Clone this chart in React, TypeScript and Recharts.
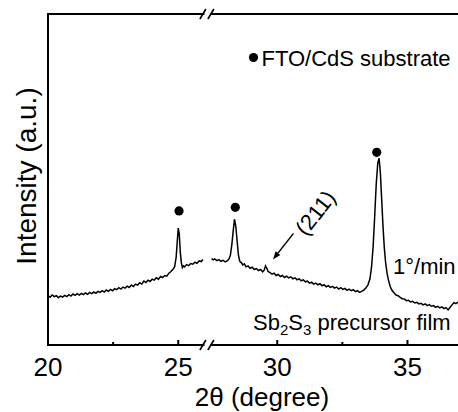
import {
  ComposedChart, Line, Scatter, XAxis, YAxis, ReferenceLine, ReferenceDot, Customized,
} from "recharts";

const FONT = "'Liberation Sans', Arial, Helvetica, sans-serif";

// 2θ between BREAK_AT and BREAK_AT + BREAK_GAP is cut out of the axis
const BREAK_AT = 26.1;
const BREAK_GAP = 1.2;
const X_END = 36.94;

const majorTicks = [20, 25, 30, 35];
const minorTicks = [22.5, 32.5];

// [2θ, intensity a.u.]
const scanBeforeBreak = [
  [20.0, 14.9], [20.08, 14.4], [20.16, 15.1], [20.24, 14.6], [20.32, 14.9], [20.4, 14.3],
  [20.48, 14.8], [20.56, 14.5], [20.64, 15.0], [20.72, 14.6], [20.8, 15.2], [20.88, 14.8],
  [20.96, 15.4], [21.04, 15.0], [21.12, 15.5], [21.2, 15.1], [21.28, 15.6], [21.36, 15.2],
  [21.44, 15.7], [21.52, 15.3], [21.6, 15.9], [21.68, 15.5], [21.76, 16.0], [21.84, 15.6],
  [21.92, 16.2], [22.0, 15.9], [22.08, 16.4], [22.16, 16.0], [22.24, 16.6], [22.32, 16.2],
  [22.4, 16.8], [22.48, 16.4], [22.56, 17.0], [22.64, 16.7], [22.72, 17.3], [22.8, 16.9],
  [22.88, 17.5], [22.96, 17.2], [23.04, 17.8], [23.12, 17.4], [23.2, 18.1], [23.28, 17.7],
  [23.36, 18.4], [23.44, 18.1], [23.52, 18.8], [23.6, 18.4], [23.68, 19.3], [23.76, 18.9],
  [23.84, 19.6], [23.92, 19.2], [24.0, 19.9], [24.08, 19.6], [24.16, 20.3], [24.24, 19.9],
  [24.32, 20.7], [24.4, 20.4], [24.48, 21.0], [24.56, 20.8], [24.64, 21.7], [24.72, 22.2],
  [24.8, 22.9], [24.86, 23.6], [24.92, 26.5], [24.96, 31.0], [25.0, 35.3], [25.04, 33.5],
  [25.08, 28.0], [25.12, 24.8], [25.16, 23.4], [25.2, 23.9], [25.24, 23.6], [25.32, 24.3],
  [25.4, 24.0], [25.48, 24.6], [25.56, 24.4], [25.64, 25.0], [25.72, 24.7], [25.8, 25.4],
  [25.88, 25.2], [25.95, 25.8],
];

const scanAfterBreak = [
  [27.48, 26.1], [27.54, 25.7], [27.6, 26.0], [27.68, 25.5], [27.76, 25.8], [27.84, 25.3],
  [27.92, 25.6], [28.0, 25.1], [28.08, 25.4], [28.14, 25.9], [28.2, 27.0], [28.26, 30.5],
  [28.31, 34.5], [28.36, 38.0], [28.41, 35.8], [28.46, 31.5], [28.51, 27.2], [28.56, 25.3],
  [28.62, 24.9], [28.68, 24.2], [28.74, 24.5], [28.8, 23.6], [28.88, 23.9], [28.96, 23.2],
  [29.04, 23.5], [29.12, 22.8], [29.2, 23.1], [29.28, 22.5], [29.36, 22.8], [29.44, 22.1],
  [29.5, 22.6], [29.55, 23.9], [29.6, 23.2], [29.65, 22.2], [29.72, 21.9], [29.8, 21.4],
  [29.88, 21.7], [29.96, 21.0], [30.04, 21.3], [30.12, 20.7], [30.2, 21.0], [30.28, 20.4],
  [30.36, 20.8], [30.44, 20.3], [30.52, 20.6], [30.6, 20.0], [30.68, 20.3], [30.76, 19.7],
  [30.84, 20.0], [30.92, 19.4], [31.0, 19.7], [31.08, 19.1], [31.16, 19.3], [31.24, 18.7],
  [31.32, 19.0], [31.4, 18.4], [31.48, 18.7], [31.56, 18.2], [31.64, 18.5], [31.72, 17.9],
  [31.8, 18.2], [31.88, 17.6], [31.96, 17.9], [32.04, 17.4], [32.12, 17.7], [32.2, 17.2],
  [32.28, 17.5], [32.36, 16.9], [32.44, 17.3], [32.52, 16.8], [32.6, 17.1], [32.68, 16.5],
  [32.76, 16.9], [32.84, 16.4], [32.92, 16.7], [33.0, 16.1], [33.08, 16.4], [33.16, 15.9],
  [33.24, 16.2], [33.32, 16.6], [33.4, 17.2], [33.48, 18.1], [33.56, 20.0], [33.62, 23.5],
  [33.68, 29.5], [33.74, 38.5], [33.8, 48.5], [33.86, 55.0], [33.91, 56.4], [33.96, 52.0],
  [34.01, 44.0], [34.06, 36.0], [34.11, 29.5], [34.16, 25.0], [34.22, 21.5], [34.28, 19.3],
  [34.34, 17.6], [34.4, 16.6], [34.48, 15.8], [34.56, 15.1], [34.64, 14.9], [34.72, 14.4],
  [34.8, 14.0], [34.88, 13.9], [34.96, 13.4], [35.04, 13.5], [35.12, 13.0], [35.2, 13.2],
  [35.28, 12.7], [35.36, 12.9], [35.44, 12.4], [35.52, 12.6], [35.6, 12.1], [35.68, 12.4],
  [35.76, 11.9], [35.84, 12.2], [35.92, 11.7], [36.0, 11.9], [36.08, 11.4], [36.16, 11.7],
  [36.24, 11.2], [36.32, 11.5], [36.4, 11.0], [36.48, 11.3], [36.56, 10.6], [36.64, 11.4],
  [36.72, 12.2], [36.78, 12.8], [36.86, 12.5], [36.94, 13.0],
];

// FTO/CdS substrate reflections (marker positions)
const substratePeaks = [[25.03, 40.5], [28.39, 41.6], [33.82, 58.2]];
// Sb2S3 (211)
const peak211 = [29.55, 23.9];

const toAxis = (t: number) => (t > BREAK_AT ? t - BREAK_GAP : t);
const fromAxis = (u: number) => Math.round((u > BREAK_AT ? u + BREAK_GAP : u) * 10) / 10;
const rows = (pts: number[][]) => pts.map(([t, v]) => ({ u: toAxis(t), v }));

const lowRows = rows(scanBeforeBreak);
const highRows = rows(scanAfterBreak);
const peakRows = rows(substratePeaks);
const axisEnd = toAxis(X_END);
const tickAt = [...majorTicks, ...minorTicks].map(toAxis).sort((a, b) => a - b);
const gapHalf = 0.134;

function AxisTick({ x, y, payload }: any) {
  const t = fromAxis(payload.value);
  const major = majorTicks.includes(t);
  return (
    <g>
      <line x1={x} x2={x} y1={y} y2={y - (major ? 5 : 3)} stroke="#000" strokeWidth={2} />
      {major && (
        <text x={x} y={y + 31} textAnchor="middle" fontFamily={FONT} fontSize={26} fill="#000">
          {t}
        </text>
      )}
    </g>
  );
}

function AxisBreak({ cx, cy }: any) {
  return (
    <g stroke="#000" strokeWidth={1.6}>
      <line x1={cx - 7} y1={cy + 5} x2={cx - 1} y2={cy - 5} />
      <line x1={cx + 1} y1={cy + 5} x2={cx + 7} y2={cy - 5} />
    </g>
  );
}

function Dot({ cx, cy }: any) {
  return <circle cx={cx} cy={cy} r={4.6} fill="#000" />;
}

function Arrow211({ cx, cy }: any) {
  const tip = [cx + 7.5, cy - 6.5];
  const tail = [cx + 28, cy - 32.5];
  const dx = tip[0] - tail[0];
  const dy = tip[1] - tail[1];
  const len = Math.hypot(dx, dy);
  const ux = dx / len, uy = dy / len;
  const bx = tip[0] - ux * 8, by = tip[1] - uy * 8;
  const tx = cx + 50, ty = cy - 53;
  return (
    <g>
      <line x1={tail[0]} y1={tail[1]} x2={bx} y2={by} stroke="#000" strokeWidth={1.5} />
      <polygon
        points={`${tip[0]},${tip[1]} ${bx - uy * 3},${by + ux * 3} ${bx + uy * 3},${by - ux * 3}`}
        fill="#000"
      />
      <text
        x={tx} y={ty} textAnchor="middle" dominantBaseline="central"
        fontFamily={FONT} fontSize={22} fill="#000" transform={`rotate(-52 ${tx} ${ty})`}
      >
        (211)
      </text>
    </g>
  );
}

function Notes() {
  return (
    <g fontFamily={FONT} fill="#000">
      <text x={35.5} y={176} fontSize={28} textAnchor="middle" transform="rotate(-90 35.5 176)">
        Intensity (a.u.)
      </text>
      <text x={262} y={405.5} fontSize={26} textAnchor="middle">2θ (degree)</text>
      <circle cx={253.5} cy={57.5} r={4.6} />
      <text x={261.5} y={65.5} fontSize={22}>FTO/CdS substrate</text>
      <text x={393} y={274} fontSize={22}>1°/min</text>
      <text x={253} y={330} fontSize={22}>
        Sb<tspan fontSize={15} dy={5}>2</tspan>
        <tspan dy={-5}>S</tspan>
        <tspan fontSize={15} dy={5}>3</tspan>
        <tspan dy={-5}> precursor film</tspan>
      </text>
    </g>
  );
}

export default function App() {
  return (
    <div style={{ position: "absolute", left: 0, top: 0, width: 458, height: 412, background: "#fff" }}>
      <ComposedChart width={458} height={412} margin={{ top: 14, right: 0, bottom: 0, left: 48 }}>
        <XAxis
          type="number" dataKey="u" domain={[20, axisEnd]} allowDataOverflow
          ticks={tickAt} interval={0} tick={(p: any) => <AxisTick {...p} />}
          tickLine={false} axisLine={false} tickSize={0} tickMargin={0} height={67}
        />
        <YAxis type="number" domain={[0, 100]} hide allowDataOverflow />

        <ReferenceLine segment={[{ x: 20, y: 0 }, { x: 20, y: 100 }]} stroke="#000" strokeWidth={2} strokeLinecap="square" />
        <ReferenceLine segment={[{ x: 20, y: 0 }, { x: BREAK_AT - gapHalf, y: 0 }]} stroke="#000" strokeWidth={2} strokeLinecap="square" />
        <ReferenceLine segment={[{ x: BREAK_AT + gapHalf, y: 0 }, { x: axisEnd, y: 0 }]} stroke="#000" strokeWidth={2} />
        <ReferenceLine segment={[{ x: 20, y: 100 }, { x: BREAK_AT - gapHalf, y: 100 }]} stroke="#000" strokeWidth={2} strokeLinecap="square" />
        <ReferenceLine segment={[{ x: BREAK_AT + gapHalf, y: 100 }, { x: axisEnd, y: 100 }]} stroke="#000" strokeWidth={2} />
        <ReferenceDot x={BREAK_AT} y={0} shape={AxisBreak} ifOverflow="visible" />
        <ReferenceDot x={BREAK_AT} y={100} shape={AxisBreak} ifOverflow="visible" />

        <Line data={lowRows} dataKey="v" stroke="#000" strokeWidth={1.5} dot={false} isAnimationActive={false} />
        <Line data={highRows} dataKey="v" stroke="#000" strokeWidth={1.5} dot={false} isAnimationActive={false} />
        <Scatter data={peakRows} dataKey="v" fill="#000" shape={Dot} isAnimationActive={false} />

        <ReferenceDot x={toAxis(peak211[0])} y={peak211[1]} shape={Arrow211} ifOverflow="visible" />
        <Customized component={<Notes />} />
      </ComposedChart>
    </div>
  );
}
